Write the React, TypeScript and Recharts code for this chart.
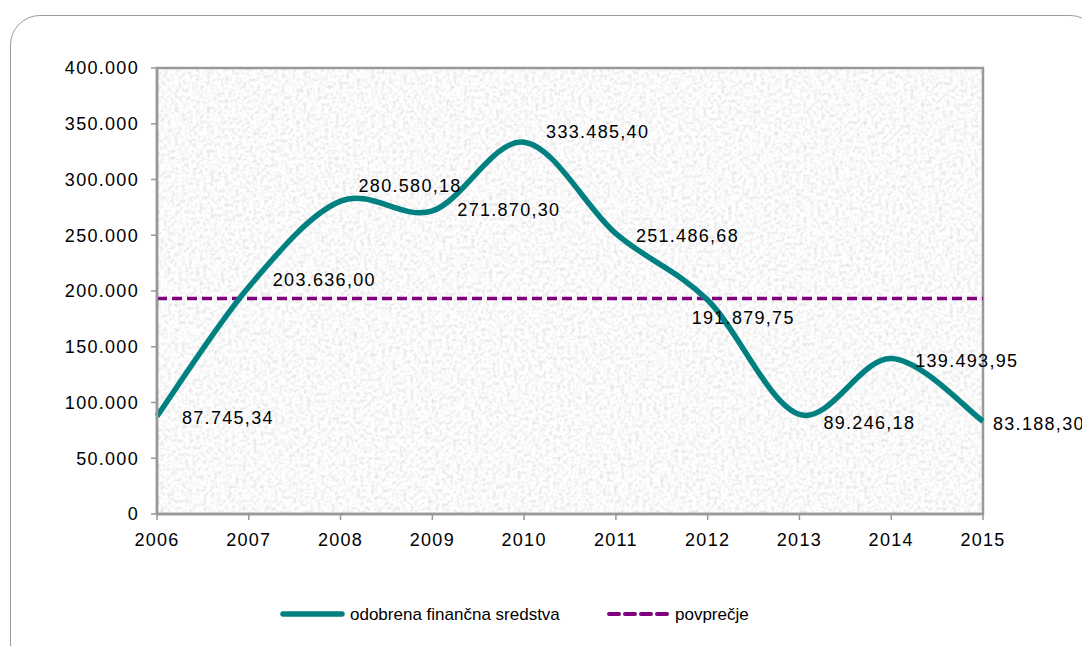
import React from 'react';
import { LineChart, Line, XAxis, YAxis, ReferenceLine, ReferenceArea, LabelList } from 'recharts';

const years = ['2006', '2007', '2008', '2009', '2010', '2011', '2012', '2013', '2014', '2015'];
const odobrena = [87745.34, 203636.0, 280580.18, 271870.3, 333485.4, 251486.68, 191879.75, 89246.18, 139493.95, 83188.3];
const povprecje = 193261.21;
const yTicks = [0, 50000, 100000, 150000, 200000, 250000, 300000, 350000, 400000];

// label nudges (dx, dy) from each point, as in the original
const labelOffsets = [
  [25, 2], [24, -7], [18, -15], [25, -1], [22, -10],
  [20, 2], [-16, 18], [24, 9], [24, 3], [10, 3],
];

const data = years.map((year, i) => ({ year, odobrena: odobrena[i] }));

const TEAL = '#008080';
const PURPLE = '#800080';
const FONT = '"Liberation Sans", Arial, sans-serif';

const withDots = (s: string) => s.replace(/\B(?=(\d{3})+(?!\d))/g, '.');
const fmtInt = (v: number) => withDots(String(Math.round(v)));
const fmtDec = (v: number) => {
  const [a, b] = v.toFixed(2).split('.');
  return withDots(a) + ',' + b;
};

// Excel-like smoothing (Catmull-Rom through the points)
const excelCurve = (context: any) => {
  let xs: number[] = [];
  let ys: number[] = [];
  return {
    areaStart() {},
    areaEnd() {},
    lineStart() { xs = []; ys = []; },
    point(x: number, y: number) { xs.push(+x); ys.push(+y); },
    lineEnd() {
      const n = xs.length;
      if (!n) return;
      context.moveTo(xs[0], ys[0]);
      for (let i = 0; i < n - 1; i++) {
        const p0 = i > 0 ? i - 1 : i;
        const p3 = i + 2 < n ? i + 2 : i + 1;
        context.bezierCurveTo(
          xs[i] + (xs[i + 1] - xs[p0]) / 6,
          ys[i] + (ys[i + 1] - ys[p0]) / 6,
          xs[i + 1] - (xs[p3] - xs[i]) / 6,
          ys[i + 1] - (ys[p3] - ys[i]) / 6,
          xs[i + 1],
          ys[i + 1],
        );
      }
    },
  };
};

const textStyle = { fontFamily: FONT, fontSize: 18, letterSpacing: 1.3, fill: '#000' };
const legendText = { fontFamily: FONT, fontSize: 17, fill: '#000' };

const PointLabel = (props: any) => {
  const { x, y, value, index } = props;
  const [dx, dy] = labelOffsets[index] || [10, 0];
  return (
    <text x={x + dx} y={y + dy} dominantBaseline="central" style={textStyle}>
      {fmtDec(value)}
    </text>
  );
};

export default function App() {
  return (
    <div style={{ position: 'absolute', left: 0, top: 0, width: 1082, height: 646, overflow: 'hidden', background: '#fff' }}>
      <div
        style={{
          position: 'absolute', left: 10, top: 15, width: 1090, height: 660,
          border: '1.5px solid #9a9a9a', borderRadius: 30, boxSizing: 'border-box',
        }}
      />
      <div style={{ position: 'absolute', left: 0, top: 0 }}>
        <LineChart width={1082} height={646} data={data} margin={{ top: 68, right: 99, bottom: 102, left: 0 }}>
          <defs>
            <filter id="graniteNoise" x="0" y="0" width="100%" height="100%">
              <feTurbulence type="fractalNoise" baseFrequency="0.28" numOctaves="3" seed="4" result="n" />
              <feColorMatrix
                in="n"
                type="matrix"
                values="0.5 0 0 0 0.7  0.5 0 0 0 0.7  0.5 0 0 0 0.7  0 0 0 0 1"
              />
            </filter>
            <pattern id="granite" patternUnits="userSpaceOnUse" x="0" y="0" width="1082" height="646">
              <rect x="0" y="0" width="1082" height="646" fill="#eee" filter="url(#graniteNoise)" />
            </pattern>
          </defs>
          <ReferenceArea
            x1="2006" x2="2015" y1={0} y2={400000}
            fill="url(#granite)" fillOpacity={1} stroke="#999" strokeWidth={2.5}
          />
          <XAxis
            dataKey="year"
            height={30}
            axisLine={{ stroke: '#999', strokeWidth: 2.5 }}
            tickLine={{ stroke: '#999', strokeWidth: 1.5 }}
            tickSize={6}
            tickMargin={13}
            tick={{ ...textStyle }}
            interval={0}
          />
          <YAxis
            width={157}
            domain={[0, 400000]}
            ticks={yTicks}
            tickFormatter={fmtInt}
            axisLine={{ stroke: '#999', strokeWidth: 2.5 }}
            tickLine={{ stroke: '#999', strokeWidth: 1.5 }}
            tickSize={6}
            tickMargin={12}
            tick={{ ...textStyle }}
            allowDataOverflow
          />
          <ReferenceLine y={povprecje} stroke={PURPLE} strokeWidth={3.5} strokeDasharray="10 5" />
          <Line
            dataKey="odobrena"
            type={excelCurve as any}
            stroke={TEAL}
            strokeWidth={5.5}
            dot={false}
            activeDot={false}
            isAnimationActive={false}
          >
            <LabelList dataKey="odobrena" content={PointLabel} />
          </Line>
        </LineChart>
      </div>
      <svg style={{ position: 'absolute', left: 0, top: 590 }} width={1082} height={50}>
        <line x1={283} y1={24} x2={342} y2={24} stroke={TEAL} strokeWidth={5.5} strokeLinecap="round" />
        <text x={350} y={24} dominantBaseline="central" style={legendText}>odobrena finančna sredstva</text>
        <line x1={609} y1={24} x2={668} y2={24} stroke={PURPLE} strokeWidth={4} strokeDasharray="10 6" strokeLinecap="round" />
        <text x={675} y={24} dominantBaseline="central" style={legendText}>povprečje</text>
      </svg>
    </div>
  );
}
